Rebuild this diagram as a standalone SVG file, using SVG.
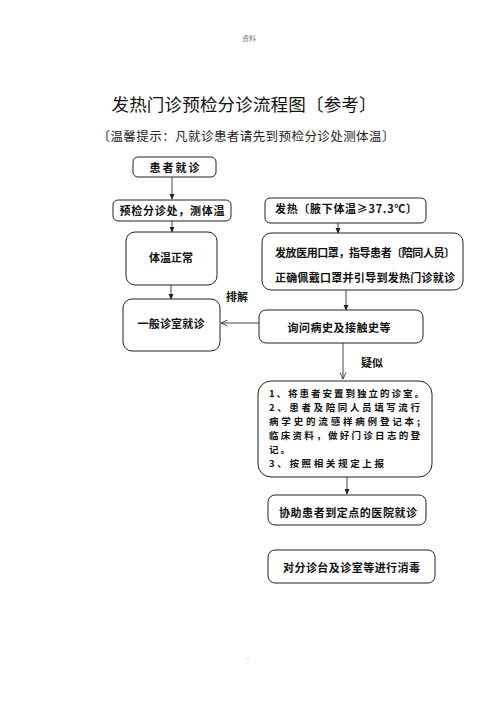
<svg xmlns="http://www.w3.org/2000/svg" width="496" height="702" viewBox="0 0 496 702">
<style>
.box{fill:#fff;stroke:#222;stroke-width:1}
.lbl{font-family:"Noto Sans CJK SC","Noto Sans",sans-serif;font-weight:bold;font-size:11px;fill:#111}
.ml{font-family:"Noto Sans CJK SC","Noto Sans",sans-serif;font-weight:bold;font-size:9.5px;fill:#111}
.ln{stroke:#444;stroke-width:1;fill:none}
</style>
<defs>
<marker id="ah" viewBox="0 0 8 8" refX="7" refY="4" markerWidth="6" markerHeight="6" orient="auto" markerUnits="userSpaceOnUse">
<path d="M0,0.5 L8,4 L0,7.5 z" fill="#222"/>
</marker>
<marker id="av" viewBox="0 0 8 8" refX="7.5" refY="4" markerWidth="7" markerHeight="7" orient="auto" markerUnits="userSpaceOnUse">
<path d="M0,0.5 L7.5,4 L0,7.5" fill="none" stroke="#333" stroke-width="1"/>
</marker>
</defs>
<rect width="496" height="702" fill="#fff"/>
<text x="249" y="41" text-anchor="middle" font-family="Noto Sans CJK SC,sans-serif" font-size="7" fill="#777">资料</text>
<text x="244" y="111" text-anchor="middle" font-family="Noto Sans CJK SC,sans-serif" font-size="17.5" fill="#111" textLength="265">发热门诊预检分诊流程图〔参考〕</text>
<text x="246" y="141" text-anchor="middle" font-family="Noto Sans CJK SC,sans-serif" font-size="12.5" fill="#222" textLength="297">〔温馨提示：凡就诊患者请先到预检分诊处测体温〕</text>

<g id="connectors">
<line class="ln" x1="172" y1="177" x2="172" y2="199" marker-end="url(#ah)"/>
<line class="ln" x1="172" y1="221" x2="172" y2="232" marker-end="url(#ah)"/>
<line class="ln" x1="338" y1="223" x2="338" y2="233" marker-end="url(#ah)"/>
<line class="ln" x1="171" y1="285" x2="171" y2="299" marker-end="url(#ah)"/>
<line class="ln" x1="346" y1="290" x2="346" y2="310" marker-end="url(#ah)"/>
<line class="ln" x1="259" y1="323" x2="221" y2="323" marker-end="url(#av)"/>
<line class="ln" x1="343" y1="343" x2="343" y2="379" marker-end="url(#av)"/>
<line class="ln" x1="347" y1="477" x2="347" y2="494" marker-end="url(#ah)"/>
<text x="237" y="301" text-anchor="middle" class="lbl">排解</text>
<text x="372" y="367" text-anchor="middle" class="lbl">疑似</text>
</g>

<g id="n1"><rect class="box" x="133" y="157" width="83" height="20" rx="5"/><text x="174.5" y="171.5" text-anchor="middle" class="lbl" font-size="12" textLength="50">患者就诊</text></g>
<g id="n2"><rect class="box" x="113" y="200" width="118" height="21" rx="5"/><text x="172" y="215" text-anchor="middle" class="lbl" textLength="105">预检分诊处，测体温</text></g>
<g id="n3"><rect class="box" x="265" y="198" width="161" height="25" rx="5"/><text x="275" y="213" class="lbl" textLength="142">发热〔腋下体温≥37.3℃〕</text></g>
<g id="n4"><rect class="box" x="126" y="232" width="91" height="53" rx="9"/><text x="171" y="262" text-anchor="middle" class="lbl" textLength="44">体温正常</text></g>
<g id="n5"><rect class="box" x="262" y="233" width="201" height="57" rx="9"/><text x="275" y="257" class="lbl" textLength="180">发放医用口罩，指导患者〔陪同人员〕</text><text x="275" y="282" class="lbl" textLength="180">正确佩戴口罩并引导到发热门诊就诊</text></g>
<g id="n6"><rect class="box" x="123" y="299" width="97" height="52" rx="9"/><text x="171" y="328" text-anchor="middle" class="lbl" textLength="67">一般诊室就诊</text></g>
<g id="n7"><rect class="box" x="259" y="310" width="164" height="33" rx="7"/><text x="339" y="332" text-anchor="middle" class="lbl" textLength="103">询问病史及接触史等</text></g>
<g id="n8"><rect class="box" x="258" y="381" width="174" height="96" rx="13"/>
<text class="ml" x="269" y="397" textLength="155">1、将患者安置到独立的诊室。</text>
<text class="ml" x="269" y="411" textLength="151">2、患者及陪同人员填写流行</text>
<text class="ml" x="269" y="425" textLength="151">病学史的流感样病例登记本;</text>
<text class="ml" x="269" y="439" textLength="151">临床资料，做好门诊日志的登</text>
<text class="ml" x="269" y="453" textLength="21">记。</text>
<text class="ml" x="269" y="467" textLength="115">3、按照相关规定上报</text>
</g>
<g id="n9"><rect class="box" x="268" y="495" width="158" height="30" rx="7"/><text x="348" y="517" text-anchor="middle" class="lbl" textLength="138">协助患者到定点的医院就诊</text></g>
<g id="n10"><rect class="box" x="268" y="550" width="167" height="33" rx="7"/><text x="351.5" y="572" text-anchor="middle" class="lbl" textLength="137">对分诊台及诊室等进行消毒</text></g>
<text x="248" y="659" text-anchor="middle" font-family="Noto Sans,sans-serif" font-size="7" fill="#888">.</text>
</svg>
